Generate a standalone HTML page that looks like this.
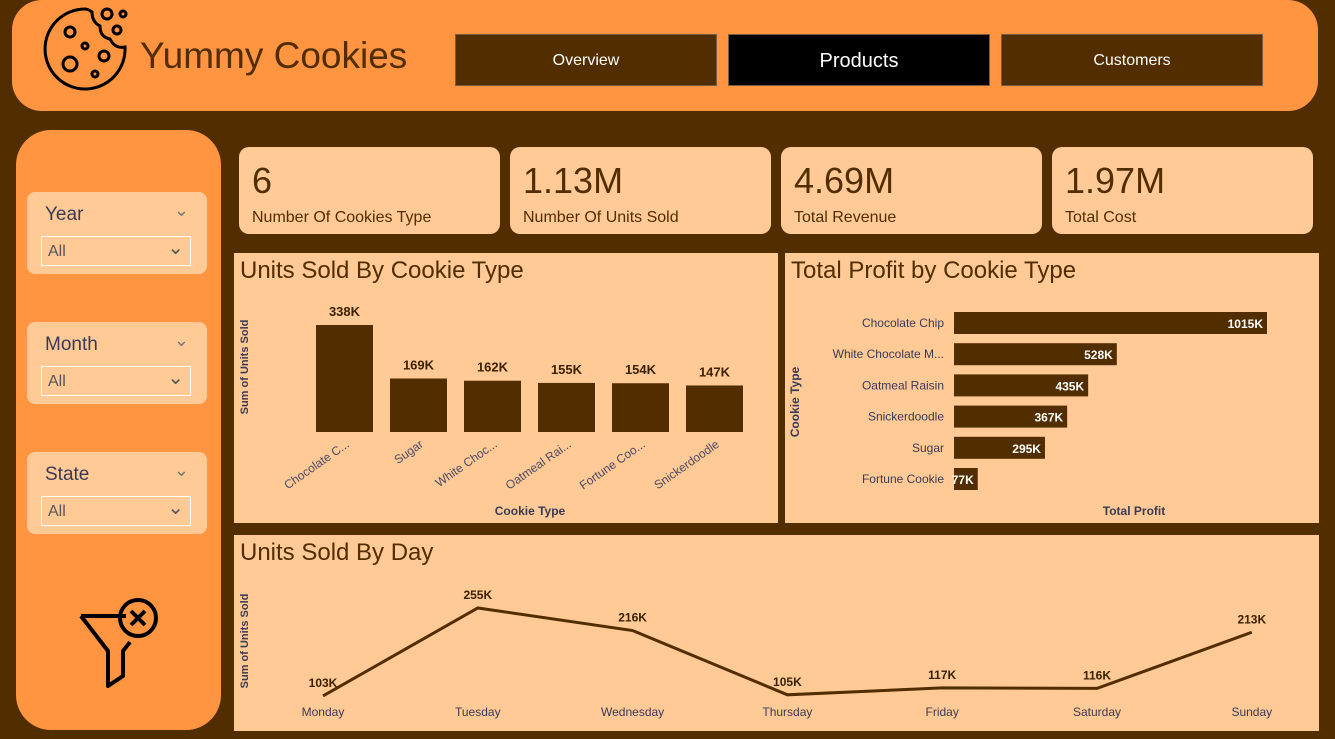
<!DOCTYPE html>
<html><head><meta charset="utf-8"><style>
body{margin:0;width:1335px;height:739px;background:#522d00;font-family:"Liberation Sans",sans-serif;position:relative;overflow:hidden}
.abs{position:absolute}
.card{position:absolute;background:#ffca96;border-radius:10px}
.kv{position:absolute;left:13px;top:13px;font-size:36px;color:#522d00}
.kl{position:absolute;left:13px;top:62px;font-size:16px;color:#522d00}
.nav{position:absolute;top:34px;width:260px;height:50px;background:#522d00;border:1px solid #7a5a40;color:#fff;font-size:16px;text-align:center;line-height:52px}
.panel{position:absolute;background:#ffca96}
.ptitle{position:absolute;left:6px;top:4px;font-size:24px;color:#522d00}
.slicer{position:absolute;left:27px;width:180px;height:82px;background:#ffca96;border-radius:8px}
.slicer .t{position:absolute;left:18px;top:12px;font-size:19px;color:#3a3a55}
.slicer .d{position:absolute;left:14px;top:44px;width:150px;height:30px;border:1px solid #fff;font-size:16px;color:#555;line-height:30px;padding-left:6px;box-sizing:border-box}
svg text{font-family:"Liberation Sans",sans-serif}
</style></head><body>
<div class="abs" style="left:12px;top:0;width:1306px;height:111px;background:#ff9441;border-radius:30px"></div>
<svg class="abs" style="left:40px;top:4px" width="90" height="88" viewBox="0 0 90 88">
<path d="M45 5 A40 40 0 1 0 85 43 Q75 45 70 35 Q60 33 60 22 Q52 18 52 8 Q48 5 45 5Z" fill="none" stroke="#000" stroke-width="3"/>
<circle cx="30" cy="28" r="5" fill="none" stroke="#000" stroke-width="3"/><circle cx="45" cy="42" r="3" fill="none" stroke="#000" stroke-width="3"/>
<circle cx="30" cy="60" r="7" fill="none" stroke="#000" stroke-width="3"/><circle cx="64" cy="52" r="5" fill="none" stroke="#000" stroke-width="3"/>
<circle cx="55" cy="70" r="3" fill="none" stroke="#000" stroke-width="3"/><circle cx="67" cy="10" r="5" fill="none" stroke="#000" stroke-width="3"/>
<circle cx="83" cy="10" r="3" fill="none" stroke="#000" stroke-width="3"/><circle cx="77" cy="26" r="4" fill="none" stroke="#000" stroke-width="3"/></svg>
<div class="abs" style="left:140px;top:35px;font-size:37px;color:#522d00">Yummy Cookies</div>
<div class="nav" style="left:455px">Overview</div>
<div class="nav" style="left:728px;background:#000;font-size:20px">Products</div>
<div class="nav" style="left:1001px">Customers</div>

<div class="abs" style="left:16px;top:130px;width:205px;height:600px;background:#ff9441;border-radius:35px"></div>
<div class="slicer" style="top:192px"><div class="t">Year</div><div class="abs" style="right:18px;top:8px;color:#777;font-size:18px">&#8964;</div><div class="d">All<span style="float:right;margin-right:6px;font-size:20px;line-height:22px">&#8964;</span></div></div>
<div class="slicer" style="top:322px"><div class="t">Month</div><div class="abs" style="right:18px;top:8px;color:#777;font-size:18px">&#8964;</div><div class="d">All<span style="float:right;margin-right:6px;font-size:20px;line-height:22px">&#8964;</span></div></div>
<div class="slicer" style="top:452px"><div class="t">State</div><div class="abs" style="right:18px;top:8px;color:#777;font-size:18px">&#8964;</div><div class="d">All<span style="float:right;margin-right:6px;font-size:20px;line-height:22px">&#8964;</span></div></div>
<svg class="abs" style="left:78px;top:596px" width="86" height="94" viewBox="0 0 86 94">
<path d="M3 20 H48 M3 20 L30 55 V90 L45 80 V55 L52 46" fill="none" stroke="#000" stroke-width="4" stroke-linejoin="round"/>
<circle cx="60" cy="22" r="18" fill="none" stroke="#000" stroke-width="4"/><path d="M53 15 L67 29 M67 15 L53 29" stroke="#000" stroke-width="4"/></svg>

<div class="card" style="left:239px;top:147px;width:261px;height:87px"><div class="kv">6</div><div class="kl">Number Of Cookies Type</div></div>
<div class="card" style="left:510px;top:147px;width:261px;height:87px"><div class="kv">1.13M</div><div class="kl">Number Of Units Sold</div></div>
<div class="card" style="left:781px;top:147px;width:261px;height:87px"><div class="kv">4.69M</div><div class="kl">Total Revenue</div></div>
<div class="card" style="left:1052px;top:147px;width:261px;height:87px"><div class="kv">1.97M</div><div class="kl">Total Cost</div></div>

<div class="panel" style="left:234px;top:253px;width:544px;height:270px"><div class="ptitle">Units Sold By Cookie Type</div></div>
<div class="panel" style="left:785px;top:253px;width:534px;height:270px"><div class="ptitle">Total Profit by Cookie Type</div></div>
<div class="panel" style="left:234px;top:535px;width:1085px;height:196px"><div class="ptitle">Units Sold By Day</div></div>

<svg class="abs" id="charts" style="left:0;top:0" width="1335" height="739"></svg>
<script>
const barCats=["Chocolate C...","Sugar","White Choc...","Oatmeal Rai...","Fortune Coo...","Snickerdoodle"];
const barVals=[338,169,162,155,154,147];
const hCats=["Chocolate Chip","White Chocolate M...","Oatmeal Raisin","Snickerdoodle","Sugar","Fortune Cookie"];
const hVals=[1015,528,435,367,295,77];
const days=["Monday","Tuesday","Wednesday","Thursday","Friday","Saturday","Sunday"];
const dayVals=[103,255,216,105,117,116,213];
const svg=document.getElementById('charts');const NS="http://www.w3.org/2000/svg";
function mk(t,a,txt){const e=document.createElementNS(NS,t);for(const k in a)e.setAttribute(k,a[k]);if(txt!==undefined)e.textContent=txt;svg.appendChild(e);return e;}
const bx=i=>316+i*74, by=v=>432-v*107/338;
barCats.forEach((c,i)=>{
 const r=mk('rect',{x:bx(i),y:by(barVals[i]),width:57,height:432-by(barVals[i]),fill:'#522d00'});
 
 const l=mk('text',{x:bx(i)+28.5,y:by(barVals[i])-9,'text-anchor':'middle','font-size':13,'font-weight':'bold',fill:'#3a2200'},barVals[i]+'K');
 
 const t=mk('text',{x:bx(i)+34,y:446,'text-anchor':'end','font-size':12,fill:'#4a4a66',transform:`rotate(-35 ${bx(i)+34} 446)`},c);
 
});
let e=mk('text',{x:530,y:515,'text-anchor':'middle','font-size':12,'font-weight':'bold',fill:'#3a3a55'},'Cookie Type');
e=mk('text',{x:248,y:367,'text-anchor':'middle','font-size':11,'font-weight':'bold',fill:'#3a3a55',transform:'rotate(-90 248 367)'},'Sum of Units Sold');
const hy=i=>323+i*31.2, hw=v=>v*313/1015;
hCats.forEach((c,i)=>{
 const r=mk('rect',{x:954,y:hy(i)-11,width:hw(hVals[i]),height:22,fill:'#522d00'});
 
 const l=mk('text',{x:954+hw(hVals[i])-4,y:hy(i)+5,'text-anchor':'end','font-size':12,'font-weight':'bold',fill:'#fff'},hVals[i]+'K');
 
 const t=mk('text',{x:944,y:hy(i)+4,'text-anchor':'end','font-size':12,fill:'#3a3a55'},c);
 
});
e=mk('text',{x:1134,y:515,'text-anchor':'middle','font-size':12,'font-weight':'bold',fill:'#3a3a55'},'Total Profit');
e=mk('text',{x:799,y:402,'text-anchor':'middle','font-size':12,'font-weight':'bold',fill:'#3a3a55',transform:'rotate(-90 799 402)'},'Cookie Type');
const lx=i=>323+i*154.8, ly=v=>755.6-v*0.579;
const pts=dayVals.map((v,i)=>lx(i)+','+ly(v)).join(' ');
e=mk('polyline',{points:pts,fill:'none',stroke:'#522d00','stroke-width':3});
days.forEach((d,i)=>{
 const l=mk('text',{x:lx(i),y:ly(dayVals[i])-9,'text-anchor':'middle','font-size':12,'font-weight':'bold',fill:'#3a2200'},dayVals[i]+'K');
 
 const t=mk('text',{x:lx(i),y:716,'text-anchor':'middle','font-size':12,fill:'#3a3a55'},d);
 
});
e=mk('text',{x:248,y:641,'text-anchor':'middle','font-size':11,'font-weight':'bold',fill:'#3a3a55',transform:'rotate(-90 248 641)'},'Sum of Units Sold');
</script>
</body></html>
